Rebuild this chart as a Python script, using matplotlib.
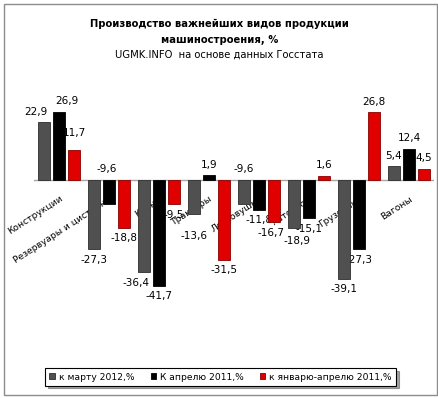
import numpy as np
import matplotlib
matplotlib.use("Agg")
import matplotlib.pyplot as plt
from matplotlib.patches import Rectangle

# data
categories = ["Конструкции", "Резервуары и цистерны", "Краны", "Тракторы",
              "Легковушки", "Автобусы", "Грузовики", "Вагоны"]
series_names = ["к марту 2012,%", "К апрелю 2011,%", "к январю-апрелю 2011,%"]
mar_2012 = [22.9, -27.3, -36.4, -13.6, -9.6, -18.9, -39.1, 5.4]
apr_2011 = [26.9, -9.6, -41.7, 1.9, -11.8, -15.1, -27.3, 12.4]
janapr_2011 = [11.7, -18.8, -9.5, -31.5, -16.7, 1.6, 26.8, 4.5]

plt.rcParams['font.family'] = ['DejaVu Sans']

W, H = 439, 398
fig = plt.figure(figsize=(W / 100, H / 100), dpi=100)

# outer chart border
fig.patches.append(Rectangle((4 / W, 1 - 395 / H), 433 / W, 391 / H,
                             transform=fig.transFigure, fill=False,
                             edgecolor='#8c8c8c', linewidth=1))

# plot area in pixels: x 34..434, y 79..306 (zero at y=180)
ax = fig.add_axes([34 / W, 1 - 306.5 / H, 400 / W, 227.7 / H])
ax.set_xlim(-0.5, 7.5)
ax.set_ylim(-50, 40)
ax.axis('off')

x = np.arange(len(categories))
colors = ['#505050', '#000000', '#e00000']
edges = ['#2e2e2e', '#000000', '#8a0000']
offsets = [-0.3, 0.0, 0.3]
all_series = [mar_2012, apr_2011, janapr_2011]

# manual label nudges (points) where the original moved labels
nudge = {(0, 0): (-6, 0), (1, 0): (6, 0), (0, 2): (-6, 0),
         (1, 1): (-2, None), (0, 4): (0, None), (0, 3): (0, -8),
         (2, 0): (0, 5), (2, 4): (-2, 0), (0, 5): (2, -2)}

handles = []
for s, vals in enumerate(all_series):
    b = ax.bar(x + offsets[s], vals, width=0.24, color=colors[s],
               edgecolor=edges[s], linewidth=0.6, zorder=2,
               label=series_names[s])
    handles.append(b)
    for i, v in enumerate(vals):
        txt = f"{v:.1f}".replace('.', ',')
        dx, dy = nudge.get((s, i), (0, 0))
        if dy is None:
            # label put above the axis line
            y0, off, va = 0, 4, 'bottom'
        elif v >= 0:
            y0, off, va = v, 4 + dy, 'bottom'
        else:
            y0, off, va = v, -4 + dy, 'top'
        ax.annotate(txt, xy=(x[i] + offsets[s], y0), xytext=(dx, off),
                    textcoords='offset points', ha='center', va=va,
                    fontsize=7.5, zorder=1.5, annotation_clip=False)

# zero axis line
ax.axhline(0, color='#a6a6a6', linewidth=1, zorder=1.8)

# category labels, drawn behind the bars
for i, c in enumerate(categories):
    ax.annotate(c, xy=(x[i], 0), xytext=(2, -13), textcoords='offset points',
                ha='right', va='center', rotation=33, rotation_mode='anchor',
                fontsize=6.6, zorder=1, annotation_clip=False)

# titles
fig.text(0.5, 1 - 24 / H, "Производство важнейших видов продукции",
         ha='center', va='center', fontsize=7.2, fontweight='bold')
fig.text(0.5, 1 - 40 / H, "машиностроения, %",
         ha='center', va='center', fontsize=7.2, fontweight='bold')
fig.text(0.5, 1 - 55 / H, "UGMK.INFO  на основе данных Госстата",
         ha='center', va='center', fontsize=7.2)

leg = fig.legend(handles=handles, loc='center', ncol=3,
                 bbox_to_anchor=(220.5 / W, 1 - 377 / H), fontsize=6.6,
                 handlelength=0.6, handleheight=0.6, handletextpad=0.4,
                 columnspacing=1.8, fancybox=False, shadow=True,
                 borderpad=0.45, frameon=True)
leg.get_frame().set_edgecolor('#000000')
leg.get_frame().set_linewidth(0.8)

fig.savefig("out.png", dpi=100)
